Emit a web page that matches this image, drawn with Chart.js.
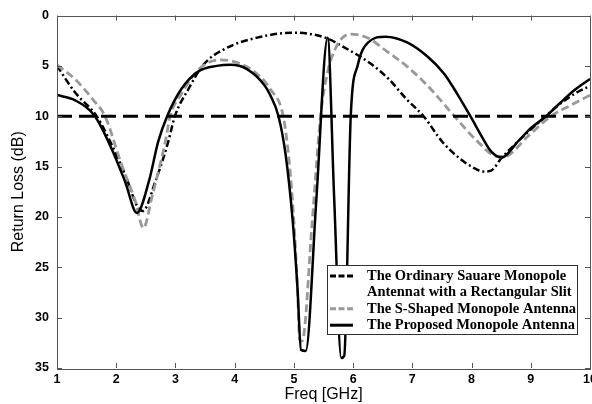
<!DOCTYPE html>
<html>
<head>
<meta charset="utf-8">
<script src="https://cdn.jsdelivr.net/npm/chart.js@4.4.1/dist/chart.umd.min.js"></script>
<style>
  html, body { margin: 0; padding: 0; background: #fff; }
  canvas { display: block; }
</style>
</head>
<body>
<canvas id="rl" width="592" height="404"></canvas>
<script>
// values (GHz / dB)
const freqOrdinary = [1, 1.3, 1.67, 1.93, 2.15, 2.37, 2.45, 2.66, 2.88, 2.99, 3.22, 3.47, 3.84, 4.38, 5.0, 5.53, 5.8, 6.3, 6.6, 6.9, 7.19, 7.5, 7.8, 8.0, 8.2, 8.33, 8.5, 8.8, 9.25, 9.51, 9.79, 10];
const lossOrdinary = [5.0, 7.6, 10, 12.9, 15.8, 19.1, 19.4, 16.5, 12.5, 10, 7.3, 4.9, 3.3, 2.2, 1.7, 2.2, 3.0, 4.8, 6.3, 8.3, 10, 12.5, 14.2, 15.0, 15.5, 15.4, 14.2, 12.4, 10, 8.7, 7.6, 7.0];

const freqSShaped = [1, 1.3, 1.6, 1.81, 2.09, 2.32, 2.46, 2.6, 2.83, 2.91, 3.1, 3.4, 3.76, 4.1, 4.4, 4.6, 4.82, 4.92, 5.0, 5.06, 5.1, 5.14, 5.31, 5.45, 5.57, 5.7, 5.82, 5.96, 6.24, 6.58, 6.92, 7.31, 7.71, 8.1, 8.44, 8.55, 8.95, 9.34, 9.68, 10];
const lossSShaped = [4.9, 6.3, 8.3, 10, 14.8, 18.4, 21.1, 18.1, 12.5, 10, 7.8, 5.3, 4.4, 4.8, 5.9, 7.3, 10, 14.5, 20.4, 27, 32.3, 32.3, 20.4, 10, 5.6, 3.3, 2.2, 1.85, 2.2, 3.6, 5.1, 7.3, 10, 12.5, 14.0, 14.0, 12.0, 10, 8.9, 7.9];

const freqProposed = [1, 1.3, 1.64, 1.92, 2.15, 2.35, 2.55, 2.71, 2.86, 3.1, 3.4, 3.7, 3.93, 4.2, 4.5, 4.6, 4.74, 4.86, 4.98, 5.06, 5.12, 5.2, 5.38, 5.57, 5.68, 5.8, 5.85, 5.96, 6.08, 6.25, 6.55, 6.92, 7.26, 7.54, 7.76, 7.99, 8.19, 8.33, 8.5, 8.8, 9.0, 9.26, 9.51, 9.74, 10];
const lossProposed = [7.9, 8.4, 10, 13.2, 16.5, 19.6, 16.5, 12.5, 10, 7.3, 5.5, 5.0, 4.9, 5.3, 6.9, 7.9, 10, 13.8, 20.4, 27, 33.2, 33.3, 18.2, 2.2, 18.1, 34, 33.8, 10, 4.9, 2.7, 2.1, 2.7, 4.1, 5.8, 7.8, 10.1, 12.2, 13.5, 14.1, 12.4, 11.2, 10, 8.6, 7.4, 6.3];

const thresholdFreq = [1, 10];
const thresholdLoss = [10, 10];

const legendLabels = [
  ["The Ordinary Sauare Monopole", "Antennat with a Rectangular Slit"],
  ["The S-Shaped Monopole Antenna"],
  ["The Proposed Monopole Antenna"]
];

const pts = (xs, ys) => xs.map((x, i) => ({ x: x, y: ys[i] }));

// MATLAB style box with ticks pointing inwards
const boxTicks = {
  id: "boxTicks",
  afterDatasetsDraw(chart) {
    const { ctx, chartArea: a, scales } = chart;
    const len = 5;
    ctx.save();
    ctx.strokeStyle = "#555";
    ctx.lineWidth = 1;
    ctx.setLineDash([]);
    ctx.beginPath();
    scales.x.ticks.forEach(t => {
      const px = Math.round(scales.x.getPixelForValue(t.value)) + 0.5;
      ctx.moveTo(px, a.bottom); ctx.lineTo(px, a.bottom - len);
      ctx.moveTo(px, a.top); ctx.lineTo(px, a.top + len);
    });
    scales.y.ticks.forEach(t => {
      const py = Math.round(scales.y.getPixelForValue(t.value)) + 0.5;
      ctx.moveTo(a.left, py); ctx.lineTo(a.left + len, py);
      ctx.moveTo(a.right, py); ctx.lineTo(a.right - len, py);
    });
    ctx.stroke();
    ctx.strokeRect(Math.round(a.left) + 0.5, Math.round(a.top) + 0.5,
      Math.round(a.right - a.left), Math.round(a.bottom - a.top));
    ctx.restore();
  }
};

// boxed legend in the lower right corner
const boxLegend = {
  id: "boxLegend",
  afterDraw(chart) {
    const { ctx, chartArea: a } = chart;
    const w = 250, h = 69;
    const x0 = a.right - 13 - w, y0 = a.bottom - 34 - h;
    const styles = [
      { color: "#000", dash: [6, 2.5] },
      { color: "#999", dash: [6, 2.5] },
      { color: "#000", dash: [] }
    ];
    ctx.save();
    ctx.fillStyle = "#fff";
    ctx.fillRect(x0, y0, w, h);
    ctx.strokeStyle = "#333";
    ctx.lineWidth = 1;
    ctx.strokeRect(x0 + 0.5, y0 + 0.5, w, h);
    ctx.beginPath();
    ctx.rect(x0 + 1, y0 + 1, w - 2, h - 2);
    ctx.clip();
    ctx.font = "bold 14.5px 'Liberation Serif', 'Times New Roman', serif";
    ctx.textBaseline = "middle";
    ctx.fillStyle = "#000";
    let row = 0;
    legendLabels.forEach((lines, i) => {
      const yy = y0 + 11 + row * 16.4;
      ctx.strokeStyle = styles[i].color;
      ctx.setLineDash(styles[i].dash);
      ctx.lineWidth = 3;
      ctx.beginPath();
      ctx.moveTo(x0 + 3, yy);
      ctx.lineTo(x0 + 26, yy);
      ctx.stroke();
      lines.forEach(t => {
        ctx.fillText(t, x0 + 40, y0 + 11 + row * 16.4);
        row++;
      });
    });
    ctx.restore();
  }
};

Chart.defaults.font.family = "'Liberation Sans', Arial, sans-serif";
Chart.defaults.color = "#000";

new Chart(document.getElementById("rl"), {
  type: "line",
  data: {
    datasets: [
      {
        label: "10 dB",
        data: pts(thresholdFreq, thresholdLoss),
        borderColor: "#000",
        borderWidth: 3,
        borderDash: [15, 7],
        pointRadius: 0,
        order: 0
      },
      {
        label: legendLabels[2].join(" "),
        data: pts(freqProposed, lossProposed),
        borderColor: "#000",
        borderWidth: 2.5,
        pointRadius: 0,
        cubicInterpolationMode: "monotone",
        order: 1
      },
      {
        label: legendLabels[1].join(" "),
        data: pts(freqSShaped, lossSShaped),
        borderColor: "#999",
        borderWidth: 2.8,
        borderDash: [8, 4],
        pointRadius: 0,
        cubicInterpolationMode: "monotone",
        order: 2
      },
      {
        label: legendLabels[0].join(" "),
        data: pts(freqOrdinary, lossOrdinary),
        borderColor: "#000",
        borderWidth: 2.5,
        borderDash: [7, 3, 2, 3],
        pointRadius: 0,
        cubicInterpolationMode: "monotone",
        order: 3
      }
    ]
  },
  options: {
    responsive: false,
    animation: false,
    devicePixelRatio: 1,
    layout: { padding: { top: 13, right: 2, left: 0, bottom: 0 } },
    plugins: { legend: { display: false }, tooltip: { enabled: false } },
    scales: {
      x: {
        type: "linear",
        min: 1, max: 10,
        grid: { display: false, drawTicks: false },
        border: { display: false },
        ticks: { stepSize: 1, padding: 4, font: { size: 12.5, weight: "bold" } },
        title: { display: true, text: "Freq [GHz]", font: { size: 16 }, padding: { top: 0, bottom: 0 } },
        afterFit(s) { s.height = 36; s.paddingLeft = 0; s.paddingRight = 0; }
      },
      y: {
        reverse: true,
        min: 0, max: 35,
        grid: { display: false, drawTicks: false },
        border: { display: false },
        ticks: { stepSize: 5, padding: 8, font: { size: 12.5, weight: "bold" } },
        title: { display: true, text: "Return Loss (dB)", font: { size: 16 }, padding: { top: 9, bottom: 0 } },
        afterFit(s) { s.width = 57; }
      }
    }
  },
  plugins: [boxTicks, boxLegend]
});
</script>
</body>
</html>
